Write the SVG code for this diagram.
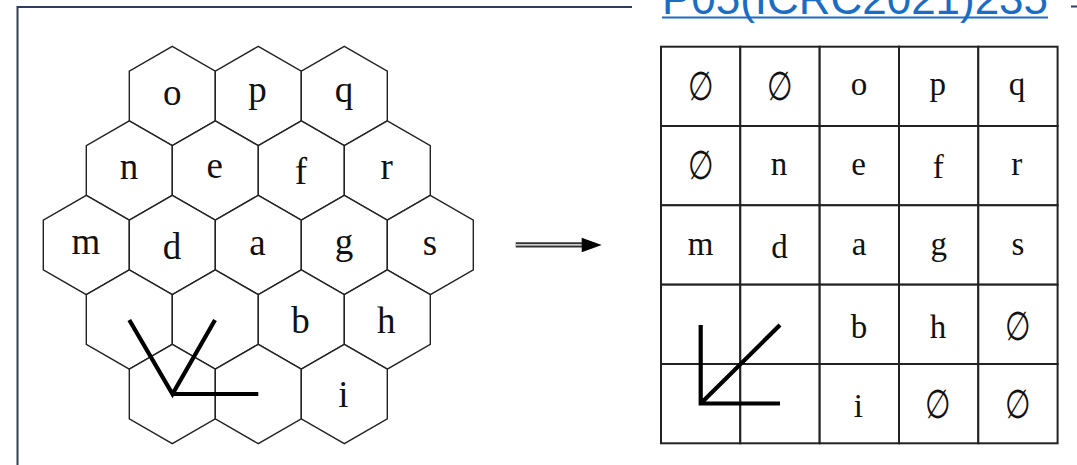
<svg xmlns="http://www.w3.org/2000/svg" width="1077" height="465" viewBox="0 0 1077 465">
<style>
.frame{stroke:#2e3d5c;stroke-width:2;fill:none}
.hex{fill:#fff;stroke:#222;stroke-width:1.4}
.cell{fill:#fff;stroke:#222;stroke-width:2}
.hl{font-family:"Liberation Serif","Times New Roman",serif;font-size:37px;text-anchor:middle;fill:#111}
.tl{font-family:"Liberation Serif","Times New Roman",serif;font-size:33px;text-anchor:middle;fill:#111}
.es{font-family:"Liberation Serif","DejaVu Serif",serif;font-size:33px;text-anchor:middle;fill:#111}
.axis{stroke:#000;stroke-width:4.2;fill:none;stroke-linecap:butt}
.ref{font-family:"Liberation Sans",Arial,sans-serif;font-size:44px;fill:#1a6dc4}
</style>
<defs>
<polygon id="hx" points="0,-49.7 43,-24.85 43,24.85 0,49.7 -43,24.85 -43,-24.85"/>
<rect id="cl" x="0" y="0" width="79.3" height="79.3"/>
</defs>
<rect width="1077" height="465" fill="#fff"/>
<g id="frame">
<path class="frame" d="M17.5,465 V7 H632"/>
<line class="frame" x1="1071" y1="6.5" x2="1077" y2="6.5"/>
<text class="ref" x="662" y="13.5" textLength="386" lengthAdjust="spacingAndGlyphs">P05(ICRC2021)235</text>
<line x1="662" y1="17.5" x2="1048" y2="17.5" stroke="#1a6dc4" stroke-width="2"/>
</g>
<g id="hexgrid">
<g id="hex-o"><use href="#hx" class="hex" x="172.3" y="96"/><text class="hl" x="172.2" y="105">o</text></g>
<g id="hex-p"><use href="#hx" class="hex" x="258.3" y="96"/><text class="hl" x="257.5" y="102">p</text></g>
<g id="hex-q"><use href="#hx" class="hex" x="344.3" y="96"/><text class="hl" x="344" y="102">q</text></g>
<g id="hex-n"><use href="#hx" class="hex" x="129.3" y="170.5"/><text class="hl" x="129" y="179.3">n</text></g>
<g id="hex-e"><use href="#hx" class="hex" x="215.3" y="170.5"/><text class="hl" x="214.7" y="178">e</text></g>
<g id="hex-f"><use href="#hx" class="hex" x="301.3" y="170.5"/><text class="hl" x="301" y="184">f</text></g>
<g id="hex-r"><use href="#hx" class="hex" x="387.3" y="170.5"/><text class="hl" x="386.7" y="179.3">r</text></g>
<g id="hex-m"><use href="#hx" class="hex" x="86.3" y="245"/><text class="hl" x="85.8" y="254">m</text></g>
<g id="hex-d"><use href="#hx" class="hex" x="172.3" y="245"/><text class="hl" x="172" y="259">d</text></g>
<g id="hex-a"><use href="#hx" class="hex" x="258.3" y="245"/><text class="hl" x="257.5" y="254.5">a</text></g>
<g id="hex-g"><use href="#hx" class="hex" x="344.3" y="245"/><text class="hl" x="344" y="254">g</text></g>
<g id="hex-s"><use href="#hx" class="hex" x="430.3" y="245"/><text class="hl" x="430" y="255">s</text></g>
<g id="hex-r3c1"><use href="#hx" class="hex" x="129.3" y="319.5"/></g>
<g id="hex-r3c2"><use href="#hx" class="hex" x="215.3" y="319.5"/></g>
<g id="hex-b"><use href="#hx" class="hex" x="301.3" y="319.5"/><text class="hl" x="300.5" y="332.7">b</text></g>
<g id="hex-h"><use href="#hx" class="hex" x="387.3" y="319.5"/><text class="hl" x="386.3" y="332.7">h</text></g>
<g id="hex-r4c1"><use href="#hx" class="hex" x="172.3" y="394"/></g>
<g id="hex-r4c2"><use href="#hx" class="hex" x="258.3" y="394"/></g>
<g id="hex-i"><use href="#hx" class="hex" x="344.3" y="394"/><text class="hl" x="343.3" y="406.7">i</text></g>
</g>
<g id="hex-axes">
<path class="axis" d="M129.3,320 L172.5,394 L215,320 M172.5,394 H258.3"/>
</g>
<g id="connectors">
<line x1="515.7" y1="244.8" x2="583" y2="244.8" stroke="#333" stroke-width="5.2"/>
<line x1="515.7" y1="244.8" x2="583" y2="244.8" stroke="#fff" stroke-width="1.2"/>
<polygon points="581.7,237.7 601.7,245 581.7,252.3" fill="#000"/>
</g>
<g id="table">
<g id="c00"><use href="#cl" class="cell" x="661" y="46.7"/><text class="es" transform="translate(700.7,99.5) scale(0.88,1.2)">∅</text></g>
<g id="c01"><use href="#cl" class="cell" x="740.3" y="46.7"/><text class="es" transform="translate(780,99.5) scale(0.88,1.2)">∅</text></g>
<g id="c02"><use href="#cl" class="cell" x="819.7" y="46.7"/><text class="tl" x="859" y="95">o</text></g>
<g id="c03"><use href="#cl" class="cell" x="899" y="46.7"/><text class="tl" x="937.8" y="95">p</text></g>
<g id="c04"><use href="#cl" class="cell" x="978.3" y="46.7"/><text class="tl" x="1017" y="95">q</text></g>
<g id="c10"><use href="#cl" class="cell" x="661" y="126"/><text class="es" transform="translate(700.7,179) scale(0.88,1.2)">∅</text></g>
<g id="c11"><use href="#cl" class="cell" x="740.3" y="126"/><text class="tl" x="779" y="175">n</text></g>
<g id="c12"><use href="#cl" class="cell" x="819.7" y="126"/><text class="tl" x="858.7" y="175">e</text></g>
<g id="c13"><use href="#cl" class="cell" x="899" y="126"/><text class="tl" x="938.3" y="178">f</text></g>
<g id="c14"><use href="#cl" class="cell" x="978.3" y="126"/><text class="tl" x="1016.7" y="175">r</text></g>
<g id="c20"><use href="#cl" class="cell" x="661" y="205.3"/><text class="tl" x="700.5" y="255">m</text></g>
<g id="c21"><use href="#cl" class="cell" x="740.3" y="205.3"/><text class="tl" x="779.5" y="258">d</text></g>
<g id="c22"><use href="#cl" class="cell" x="819.7" y="205.3"/><text class="tl" x="859" y="255">a</text></g>
<g id="c23"><use href="#cl" class="cell" x="899" y="205.3"/><text class="tl" x="938.7" y="255">g</text></g>
<g id="c24"><use href="#cl" class="cell" x="978.3" y="205.3"/><text class="tl" x="1018" y="255">s</text></g>
<g id="c30"><use href="#cl" class="cell" x="661" y="284.7"/></g>
<g id="c31"><use href="#cl" class="cell" x="740.3" y="284.7"/></g>
<g id="c32"><use href="#cl" class="cell" x="819.7" y="284.7"/><text class="tl" x="859" y="338.3">b</text></g>
<g id="c33"><use href="#cl" class="cell" x="899" y="284.7"/><text class="tl" x="938" y="338.3">h</text></g>
<g id="c34"><use href="#cl" class="cell" x="978.3" y="284.7"/><text class="es" transform="translate(1017.5,339.5) scale(0.88,1.2)">∅</text></g>
<g id="c40"><use href="#cl" class="cell" x="661" y="364"/></g>
<g id="c41"><use href="#cl" class="cell" x="740.3" y="364"/></g>
<g id="c42"><use href="#cl" class="cell" x="819.7" y="364"/><text class="tl" x="858.3" y="416.7">i</text></g>
<g id="c43"><use href="#cl" class="cell" x="899" y="364"/><text class="es" transform="translate(938,417.5) scale(0.88,1.2)">∅</text></g>
<g id="c44"><use href="#cl" class="cell" x="978.3" y="364"/><text class="es" transform="translate(1017.5,417.5) scale(0.88,1.2)">∅</text></g>
</g>
<g id="table-axes">
<path class="axis" d="M700.7,325 V403.5 H780 M700.7,403.5 L780,325"/>
</g>
</svg>
